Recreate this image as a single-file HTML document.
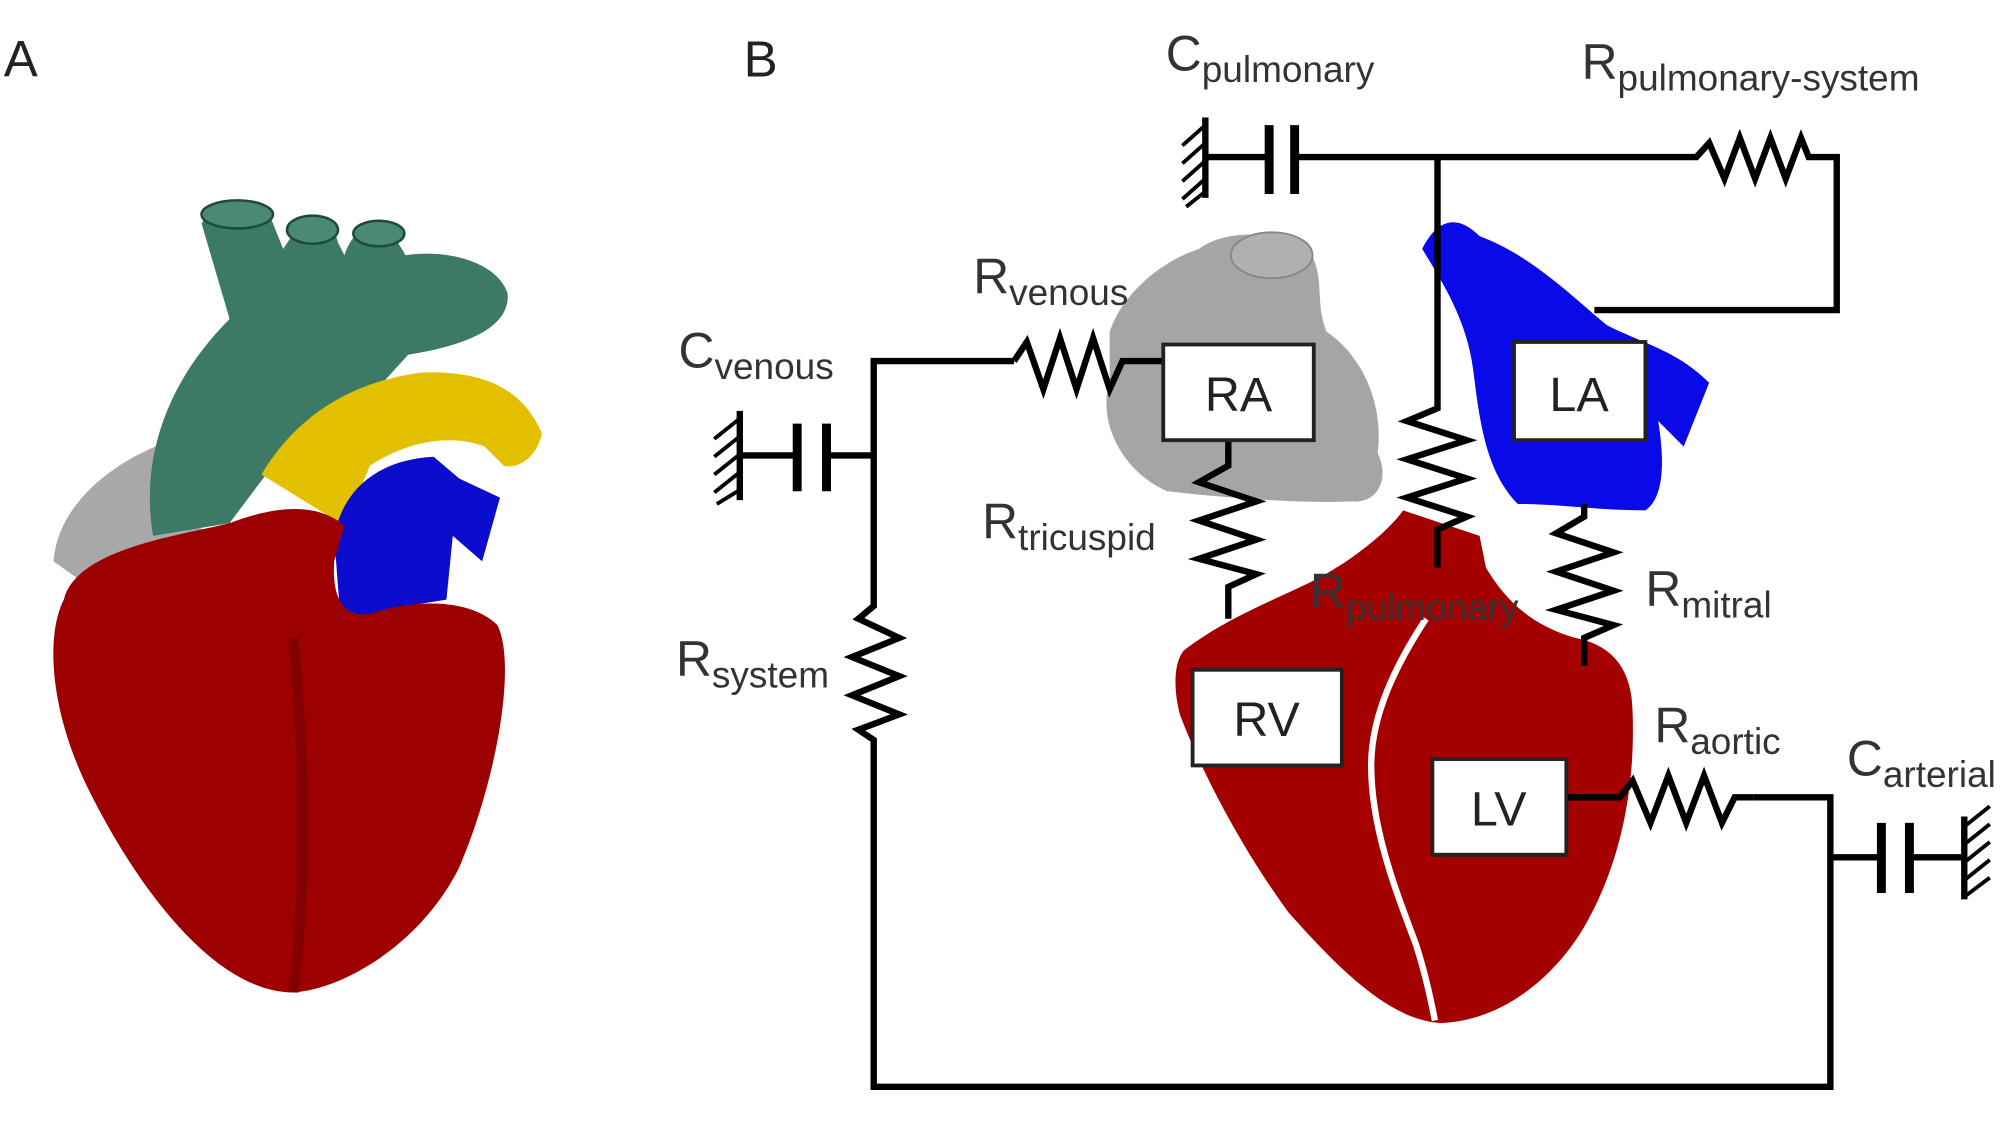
<!DOCTYPE html>
<html><head><meta charset="utf-8"><style>html,body{margin:0;padding:0;background:#fff}svg{display:block}</style></head>
<body>
<svg width="2000" height="1124" viewBox="0 0 1568 881" xmlns="http://www.w3.org/2000/svg" font-family="Liberation Sans, sans-serif">
<rect width="1568" height="881" fill="#fff"/>
<text x="3" y="60" font-size="40" fill="#222">A</text>
<text x="583" y="60" font-size="40" fill="#222">B</text>

<!-- Heart A -->
<path d="M42,440 C45,395 90,360 135,345 L160,420 L70,460 Z" fill="#a8a8a8"/>
<path d="M120,420 C110,360 130,300 180,250 L158,175 C170,158 200,155 212,170 L222,195 L232,180 C245,170 262,175 265,190 L270,200 C280,170 305,172 312,190 L318,200 C350,195 390,205 398,230 C400,255 370,270 320,278 L300,300 C260,320 230,330 210,370 L180,410 Z" fill="#3c7a66"/>
<ellipse cx="186" cy="168" rx="28" ry="11" fill="#4a8a74" stroke="#1f4a3c" stroke-width="2"/>
<ellipse cx="245" cy="180" rx="20" ry="11" fill="#4a8a74" stroke="#1f4a3c" stroke-width="2"/>
<ellipse cx="297" cy="183" rx="20" ry="10" fill="#4a8a74" stroke="#1f4a3c" stroke-width="2"/>
<path d="M205,372 C230,330 270,300 330,292 C380,290 410,305 425,340 C420,360 405,368 395,365 L380,350 C355,340 320,345 290,365 L270,412 Z" fill="#e2c000"/>
<path d="M262,420 C270,380 300,360 340,358 L360,375 L392,390 L378,440 L355,420 L350,470 L300,478 L268,500 Z" fill="#0c0ccc"/>
<path d="M50,470 C60,430 140,420 180,410 C220,395 250,395 270,412 L262,440 C260,470 270,490 300,478 C330,470 370,470 390,490 C405,520 390,610 360,680 C330,740 270,775 230,778 C170,778 110,700 70,620 C40,560 35,500 50,470 Z" fill="#9c0000"/>
<path d="M230,500 C240,600 240,700 230,778" stroke="#6a0000" stroke-width="8" fill="none" opacity="0.5"/>

<!-- Anatomy B -->
<path d="M870,260 C880,230 910,205 940,195 C960,180 1000,180 1025,195 C1040,215 1030,235 1040,260 C1070,280 1085,320 1080,355 C1090,375 1080,395 1060,393 C1020,395 960,390 915,385 C880,370 860,330 870,300 Z" fill="#a5a5a5"/>
<ellipse cx="997" cy="200" rx="32" ry="18" fill="#b0b0b0" stroke="#888" stroke-width="1.5"/>
<path d="M1115,195 C1125,175 1140,165 1160,185 C1200,200 1230,230 1260,255 C1290,270 1315,275 1340,300 L1320,350 L1300,330 C1305,360 1305,390 1290,400 C1250,400 1225,395 1190,395 C1165,370 1160,330 1155,290 C1150,250 1130,220 1115,195 Z" fill="#0a0ae8"/>
<path d="M928,510 C960,485 1000,470 1030,455 C1060,440 1090,415 1100,400 L1160,420 L1165,445 C1180,470 1200,490 1235,500 C1260,505 1280,520 1280,560 C1282,620 1270,680 1240,730 C1215,770 1175,800 1130,802 C1090,800 1050,760 1010,715 C970,660 940,600 925,560 C920,540 920,520 928,510 Z" fill="#a50000"/>
<path d="M1118,485 C1095,520 1075,560 1075,600 C1075,650 1095,700 1110,740 C1118,765 1122,785 1125,800" stroke="#fff" stroke-width="5" fill="none"/>

<g stroke="#000" stroke-width="5" fill="none" stroke-linejoin="miter">
<polyline points="1015,123 1330,123 1340,112 1352,140 1364,108 1376,140 1388,108 1400,140 1412,108 1418,123 1440,123 1440,243 1250,243"/>
<line x1="945" y1="123" x2="995" y2="123"/>
<line x1="995" y1="98" x2="995" y2="152" stroke-width="7"/>
<line x1="1015" y1="98" x2="1015" y2="152" stroke-width="7"/>
<line x1="945" y1="92" x2="945" y2="155"/>
<path d="M945,98 L927,114 M945,112 L927,128 M945,126 L927,142 M945,140 L927,156 M945,150 L930,162" stroke-width="3"/>
<polyline points="1127,123 1127,320 1103,330 1150,345 1103,360 1150,375 1103,390 1150,405 1127,415 1127,445"/>
<line x1="580" y1="357" x2="625" y2="357"/>
<line x1="625" y1="332" x2="625" y2="385" stroke-width="7"/>
<line x1="648" y1="332" x2="648" y2="385" stroke-width="7"/>
<line x1="648" y1="357" x2="685" y2="357"/>
<line x1="580" y1="322" x2="580" y2="392"/>
<path d="M580,328 L560,344 M580,342 L560,358 M580,356 L560,372 M580,370 L560,386 M580,384 L562,395" stroke-width="3"/>
<polyline points="795,283 685,283 685,475 673,485 705,500 668,515 705,530 668,545 705,560 673,572 685,580 685,852 1435,852 1435,625 1375,625"/>
<polyline points="795,283 805,268 818,305 831,265 844,305 857,265 870,305 880,283 912,283"/>
<polyline points="1228,625 1270,625 1280,612 1294,645 1308,608 1322,645 1336,608 1350,645 1360,625 1375,625"/>
<line x1="1435" y1="672" x2="1475" y2="672"/>
<line x1="1475" y1="645" x2="1475" y2="700" stroke-width="7"/>
<line x1="1497" y1="645" x2="1497" y2="700" stroke-width="7"/>
<line x1="1497" y1="672" x2="1540" y2="672"/>
<line x1="1540" y1="640" x2="1540" y2="705"/>
<path d="M1540,648 L1560,632 M1540,662 L1560,646 M1540,676 L1560,660 M1540,690 L1560,674 M1540,703 L1560,688" stroke-width="3"/>
<polyline points="963,345 963,365 940,378 985,393 940,408 985,423 940,438 985,450 963,460 963,485"/>
<polyline points="1242,395 1242,405 1220,418 1265,433 1220,448 1265,463 1220,478 1265,490 1242,500 1242,522"/>
</g>

<g fill="#fff" stroke="#222" stroke-width="3">
<rect x="912" y="270" width="118" height="75"/>
<rect x="1187" y="268" width="103" height="77"/>
<rect x="935" y="525" width="117" height="75"/>
<rect x="1123" y="595" width="105" height="75"/>
</g>
<g font-size="38" fill="#222" text-anchor="middle">
<text x="971" y="322">RA</text>
<text x="1238" y="322">LA</text>
<text x="993" y="577">RV</text>
<text x="1175" y="647">LV</text>
</g>

<g font-size="39" fill="#333">
<text x="914" y="55">C<tspan font-size="29" dy="9">pulmonary</tspan></text>
<text x="1240" y="62">R<tspan font-size="29" dy="9">pulmonary-system</tspan></text>
<text x="763" y="230">R<tspan font-size="29" dy="9">venous</tspan></text>
<text x="532" y="288">C<tspan font-size="29" dy="9">venous</tspan></text>
<text x="770" y="422">R<tspan font-size="29" dy="9">tricuspid</tspan></text>
<text x="1027" y="477">R<tspan font-size="29" dy="9">pulmonary</tspan></text>
<text x="1290" y="475">R<tspan font-size="29" dy="9">mitral</tspan></text>
<text x="530" y="530">R<tspan font-size="29" dy="9">system</tspan></text>
<text x="1297" y="582">R<tspan font-size="29" dy="9">aortic</tspan></text>
<text x="1448" y="608">C<tspan font-size="29" dy="9">arterial</tspan></text>
</g>
</svg>
</body></html>
